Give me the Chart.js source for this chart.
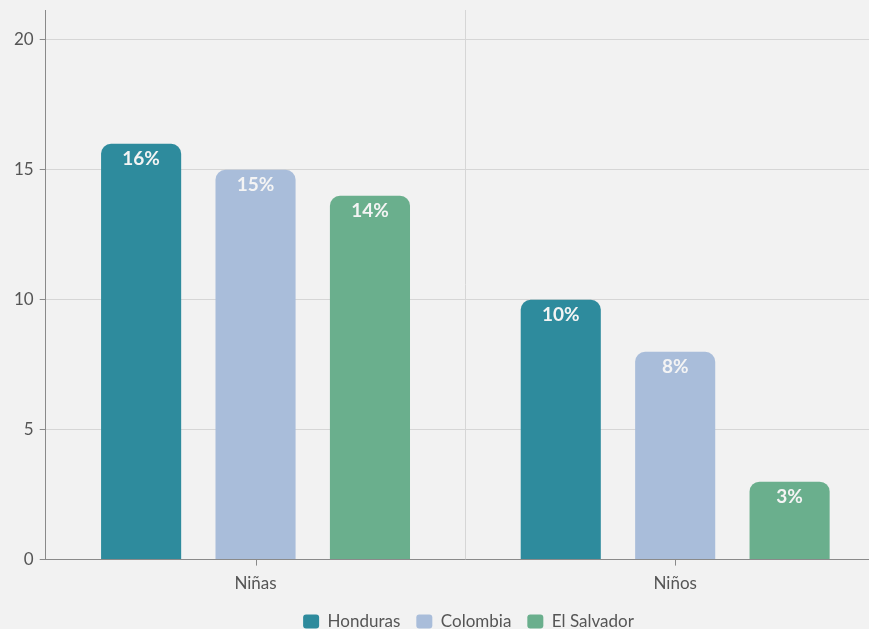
<!DOCTYPE html>
<html>
<head>
<meta charset="utf-8">
<script src="https://cdn.jsdelivr.net/npm/chart.js@4/dist/chart.umd.min.js"></script>
<style>
  html, body { margin: 0; padding: 0; background: #f2f2f2; overflow: hidden; }
  #wrap { width: 936px; height: 640px; position: relative; }
</style>
</head>
<body>
<div id="wrap"><canvas id="bar-chart"></canvas></div>
<script>
const categorias = ["Niñas", "Niños"]
const paises = ["Honduras", "Colombia", "El Salvador"]
const valoresHonduras = [16, 10]
const valoresColombia = [15, 8]
const valoresElSalvador = [14, 3]
const ticksY = [0, 5, 10, 15, 20]

const colores = ["#2e8b9d", "#a9bdda", "#6aaf8d"]

// etiquetas blancas dentro de cada barra
const etiquetasBarras = {
    id: "etiquetasBarras",
    afterDatasetsDraw(chart) {
        const ctx = chart.ctx
        ctx.save()
        ctx.font = "bold 19px Lato"
        ctx.fillStyle = "#f4f4f4"
        ctx.textAlign = "center"
        ctx.textBaseline = "middle"
        chart.data.datasets.forEach((ds, i) => {
            chart.getDatasetMeta(i).data.forEach((bar, j) => {
                ctx.fillText(ds.data[j] + "%", bar.x, bar.y + 15)
            })
        })
        ctx.restore()
    }
}

// marcas pequeñas bajo el eje x, en el centro de cada categoria
const marcasX = {
    id: "marcasX",
    afterLayout(chart) {
        // la leyenda va un poco a la derecha, como en el original
        chart.legend.left += 22
        chart.legend.right += 22
    },
    afterDraw(chart) {
        const ctx = chart.ctx
        const x = chart.scales.x
        ctx.save()
        ctx.strokeStyle = "#8a8a8a"
        ctx.lineWidth = 1
        x.ticks.forEach((t, i) => {
            const px = Math.round(x.getPixelForTick(i)) + 0.5
            ctx.beginPath()
            ctx.moveTo(px, x.top)
            ctx.lineTo(px, x.top + 6)
            ctx.stroke()
        })
        ctx.restore()
    }
}

const dataGrafico = {
    labels: categorias,
    datasets: [
        { label: paises[0], data: valoresHonduras, backgroundColor: colores[0] },
        { label: paises[1], data: valoresColombia, backgroundColor: colores[1] },
        { label: paises[2], data: valoresElSalvador, backgroundColor: colores[2] },
    ]
}

const config = {
    type: "bar",
    data: dataGrafico,
    options: {
        responsive: true,
        maintainAspectRatio: false,
        animation: false,
        layout: { padding: { left: 8, top: 10, right: 51, bottom: 0 } },
        datasets: {
            bar: {
                borderRadius: 10,
                borderSkipped: "start",
                categoryPercentage: 0.818,
                barPercentage: 0.7,
            }
        },
        scales: {
            x: {
                afterFit(axis) {
                    axis.height -= 3
                },
                grid: { color: "#d6d6d6", tickColor: "transparent", tickLength: 8 },
                border: { color: "#8a8a8a" },
                ticks: { color: "#555", font: { family: "Lato", size: 17 }, padding: 6 },
            },
            y: {
                min: 0,
                max: 21.15,
                afterBuildTicks(axis) {
                    axis.ticks = ticksY.map(v => ({ value: v }))
                },
                afterFit(axis) {
                    axis.paddingTop = 0
                },
                grid: { color: "#d6d6d6", tickColor: "#8a8a8a", tickLength: 6 },
                border: { color: "#8a8a8a" },
                ticks: { color: "#555", font: { family: "Lato", size: 17 }, padding: 6 },
            }
        },
        plugins: {
            legend: {
                position: "bottom",
                labels: {
                    color: "#555",
                    font: { family: "Lato", size: 17 },
                    boxWidth: 16,
                    boxHeight: 14,
                    useBorderRadius: true,
                    borderRadius: 3,
                    padding: 16,
                }
            },
            tooltip: { enabled: false }
        }
    },
    plugins: [etiquetasBarras, marcasX]
}

const barChart = new Chart(document.querySelector("#bar-chart").getContext("2d"), config)
</script>
</body>
</html>
